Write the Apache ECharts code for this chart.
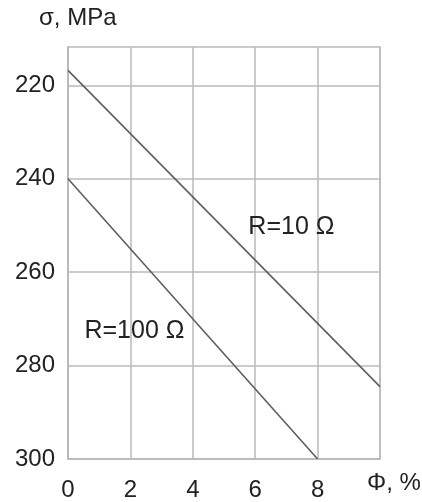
<!DOCTYPE html>
<html>
<head>
<meta charset="utf-8">
<script src="https://cdn.jsdelivr.net/npm/echarts@6/dist/echarts.min.js"></script>
<style>
  html, body { margin: 0; padding: 0; background: #fff; }
  #chart { width: 422px; height: 502px; }
</style>
</head>
<body>
<div id="chart"></div>
<script>
// Porosity Φ (%) against stress σ (MPa) for two resistances
const phiR10 = [0, 10];
const sigmaR10 = [216.8, 284.5];
const phiR100 = [0, 8];
const sigmaR100 = [240, 300];

const yTicks = [220, 240, 260, 280, 300];
const xTickLabels = ['0', '2', '4', '6', '8', ''];

const labelR10 = { text: 'R=10 Ω', at: [7.16, 250.3] };
const labelR100 = { text: 'R=100 Ω', at: [2.13, 272.7] };

const gridColor = '#b9b9c0';
const lineColor = '#5e5e5e';
const textColor = '#222222';
const font = 'Liberation Sans, Arial, sans-serif';

function pairs(xs, ys) { return xs.map((x, i) => [x, ys[i]]); }

function textMark(lbl) {
  return {
    silent: true,
    symbol: 'circle',
    symbolSize: 0,
    data: [{ coord: lbl.at, value: lbl.text }],
    label: {
      show: true,
      position: 'inside',
      formatter: lbl.text,
      fontSize: 25,
      fontFamily: font,
      color: textColor
    }
  };
}

const chart = echarts.init(document.getElementById('chart'), null, { renderer: 'canvas' });
chart.setOption({
  animation: false,
  backgroundColor: '#ffffff',
  grid: {
    left: 68, right: 42, top: 47, bottom: 42,
    show: true, borderColor: gridColor, borderWidth: 1.5
  },
  xAxis: {
    type: 'value',
    min: 0, max: 10, interval: 2,
    axisLine: { show: true, lineStyle: { color: gridColor, width: 1.5 } },
    axisTick: { show: false },
    splitLine: { show: true, lineStyle: { color: gridColor, width: 1.5 } },
    axisLabel: {
      margin: 19,
      fontSize: 24, fontFamily: font, color: textColor,
      formatter: (v) => xTickLabels[Math.round(v / 2)]
    }
  },
  yAxis: {
    type: 'value',
    inverse: true,
    min: 211.8, max: 300,
    axisLine: { show: true, lineStyle: { color: gridColor, width: 1.5 } },
    axisTick: { show: false, customValues: yTicks },
    splitLine: { show: true, lineStyle: { color: gridColor, width: 1.5 } },
    axisLabel: {
      customValues: yTicks,
      margin: 13,
      fontSize: 24, fontFamily: font, color: textColor
    }
  },
  graphic: [
    { type: 'text', left: 39, top: 6,
      style: { text: 'σ, MPa', fontSize: 24, fontFamily: font, fill: textColor } },
    { type: 'text', left: 367, top: 471,
      style: { text: 'Φ, %', fontSize: 24, fontFamily: font, fill: textColor } }
  ],
  series: [
    {
      type: 'line', name: 'R=10 Ω',
      data: pairs(phiR10, sigmaR10),
      showSymbol: false,
      lineStyle: { color: lineColor, width: 1.6 },
      markPoint: textMark(labelR10)
    },
    {
      type: 'line', name: 'R=100 Ω',
      data: pairs(phiR100, sigmaR100),
      showSymbol: false,
      lineStyle: { color: lineColor, width: 1.6 },
      markPoint: textMark(labelR100)
    }
  ]
});
</script>
</body>
</html>
